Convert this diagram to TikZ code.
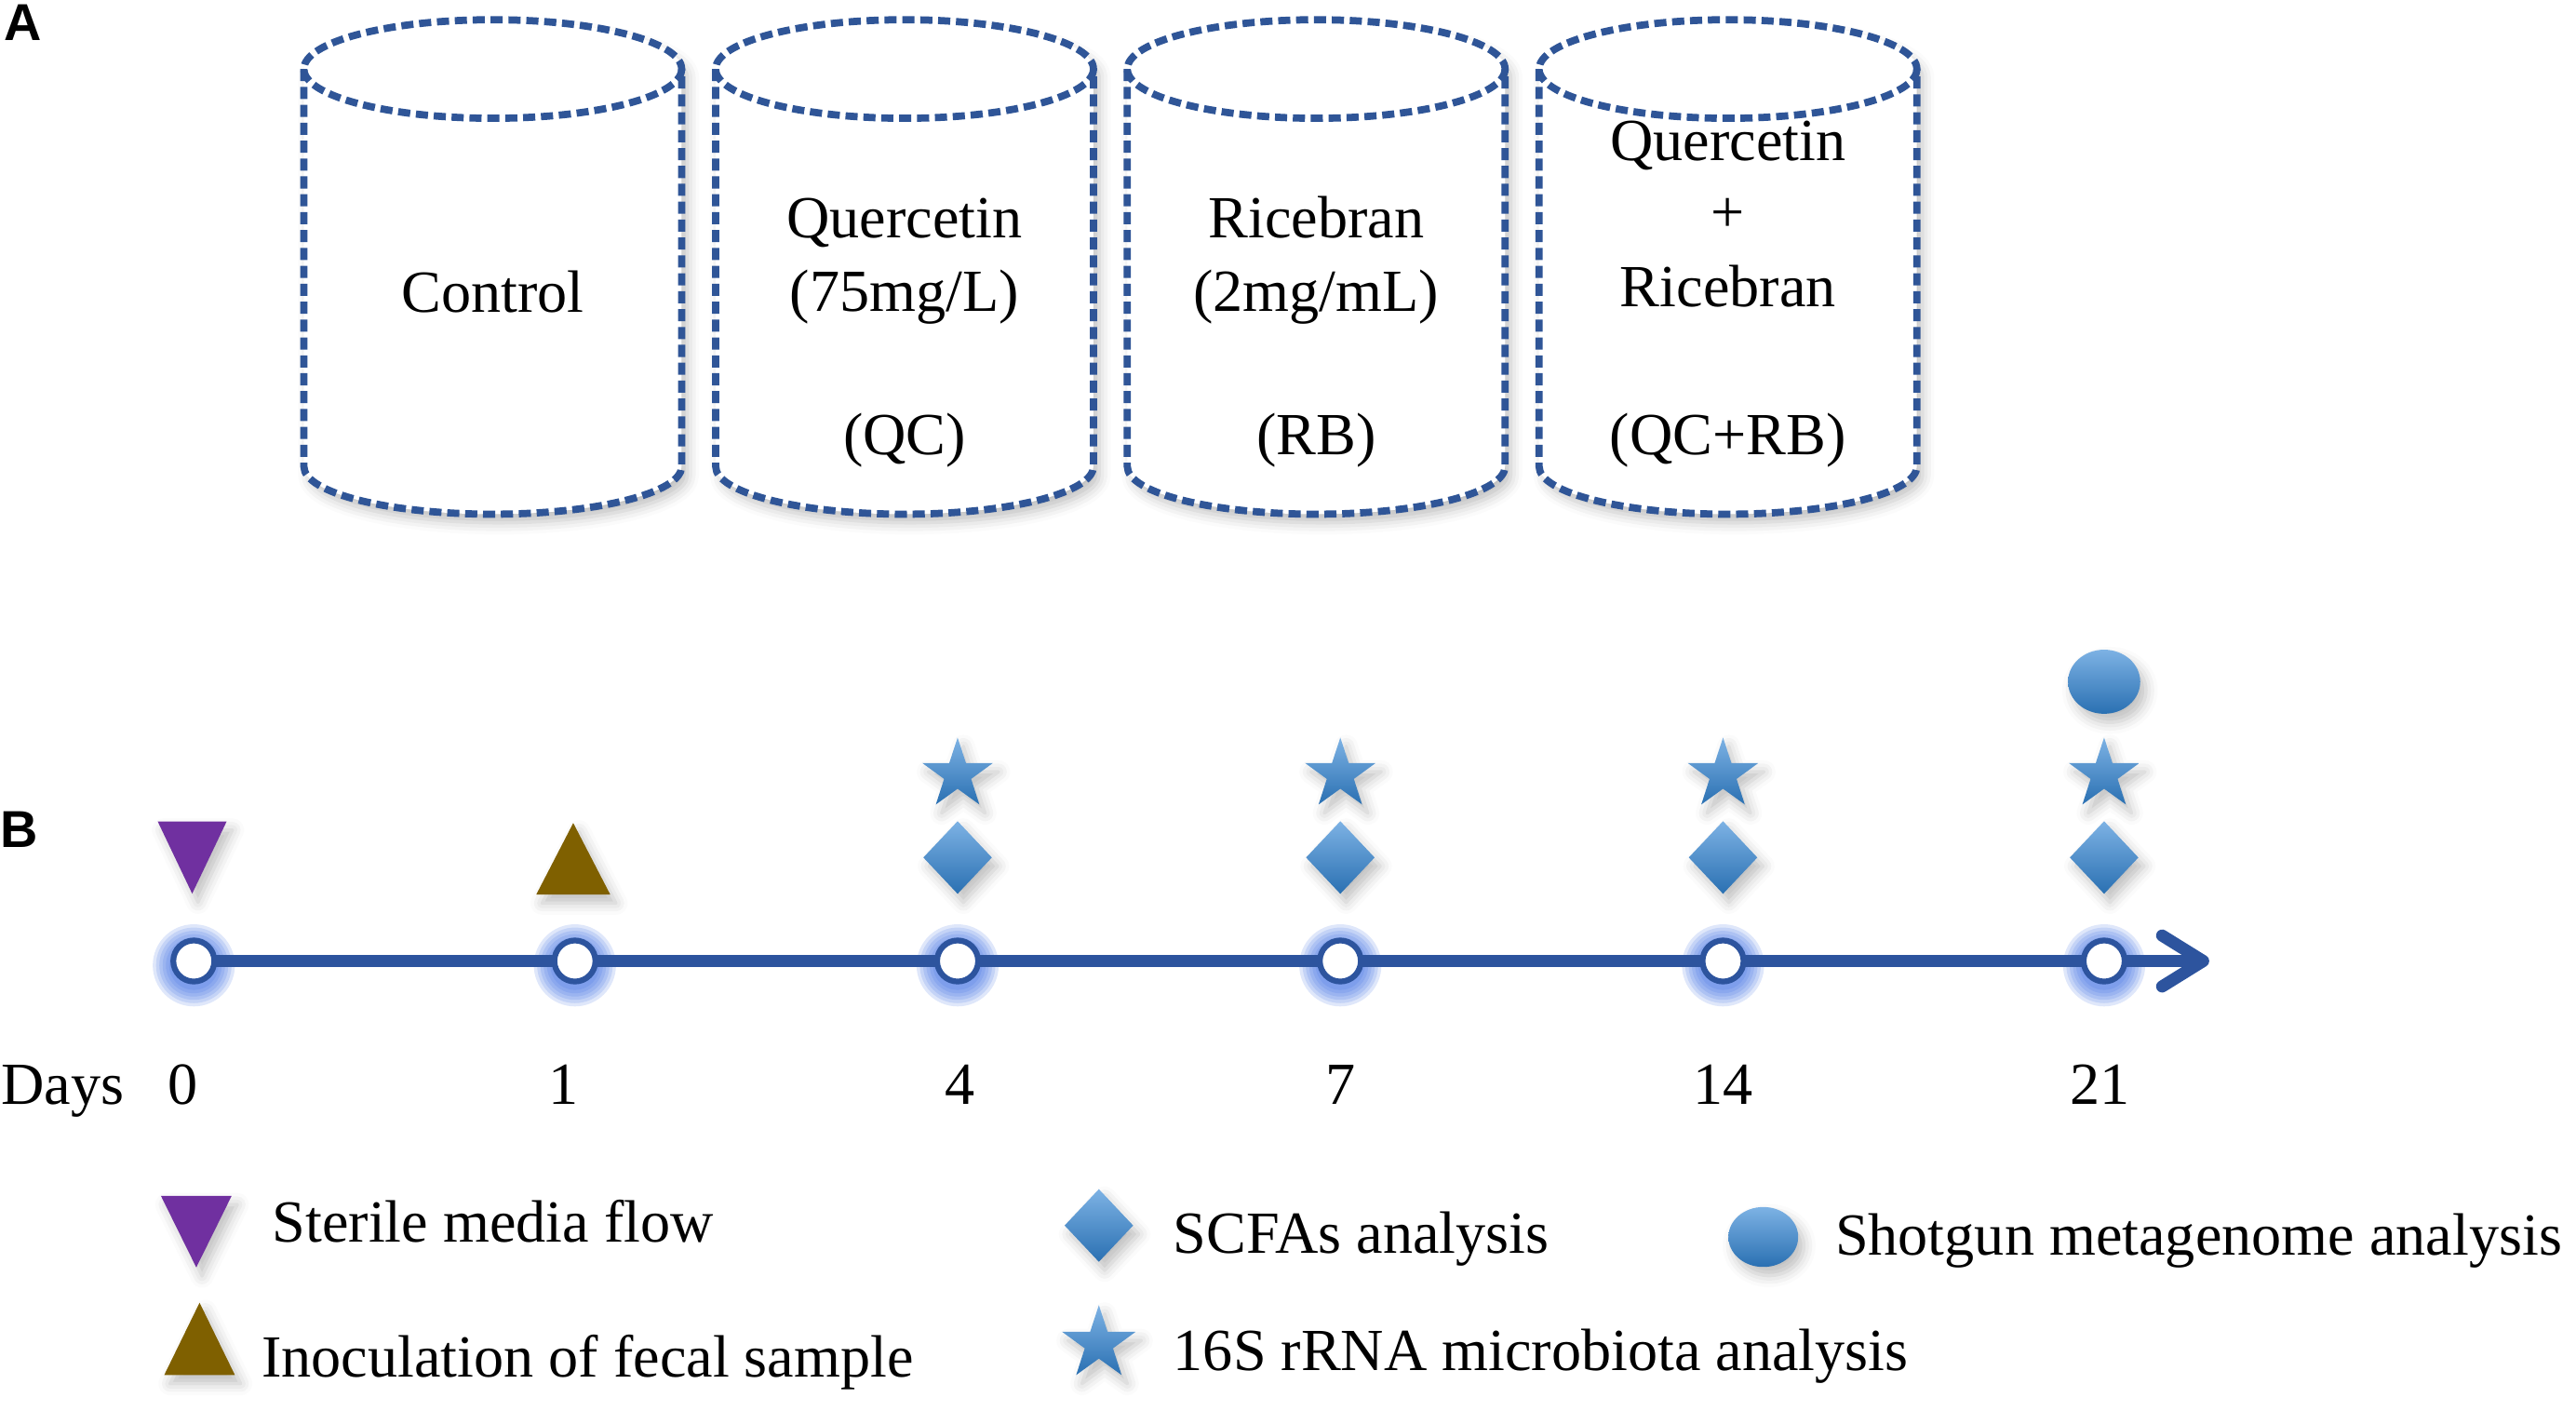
\documentclass[tikz,border=0pt]{standalone}
\usepackage{fontspec}
\setmainfont{Liberation Serif}
\newfontfamily\panelfont{Liberation Sans}
\usetikzlibrary{shapes.geometric,arrows.meta,shadows.blur}
\definecolor{cylblue}{RGB}{47,85,151}
\definecolor{axisblue}{RGB}{45,84,158}
\definecolor{glowblue}{RGB}{55,105,225}
\definecolor{mediapurple}{RGB}{112,48,160}
\definecolor{fecalbrown}{RGB}{127,96,0}
\definecolor{markhi}{RGB}{125,178,228}
\definecolor{marklo}{RGB}{42,112,178}
\tikzset{
  txt/.style={font=\fontsize{20.7}{24}\selectfont, inner sep=0pt},
  panel/.style={font={\panelfont\bfseries\fontsize{18}{20}\selectfont}, inner sep=0pt, anchor=base west},
  cyl/.style={draw=cylblue, line width=2.5pt, dash pattern=on 4.2pt off 2pt},
  softshadow/.style={blur shadow={shadow xshift=2pt, shadow yshift=-3pt, shadow blur radius=4pt, shadow opacity=25}},
  dayring/.style={circle, draw=axisblue, line width=2pt, fill=white, minimum size=0.5cm, inner sep=0pt},
  scfa/.style={diamond, minimum width=0.84cm, minimum height=0.89cm, inner sep=0pt, top color=markhi, bottom color=marklo, softshadow},
  rrna/.style={star, star points=5, star point ratio=2.6, minimum size=0.9cm, inner sep=0pt, top color=markhi, bottom color=marklo, softshadow},
  shotgun/.style={ellipse, minimum width=0.88cm, minimum height=0.78cm, inner sep=0pt, top color=markhi, bottom color=marklo, softshadow},
}
\begin{document}
\begin{tikzpicture}[x=0.02cm,y=-0.02cm]
\useasboundingbox (0,0) rectangle (1568.3,858.4);
% A: the four reactors
\node[panel] (pA) at (2,24.4) {A};
\foreach \cx in {300,550.7,801.3,1052}{
  \fill[white,softshadow] (\cx-115,42) arc[start angle=180,end angle=360,x radius=115,y radius=30]
    -- (\cx+115,284) arc[start angle=0,end angle=180,x radius=115,y radius=29] -- cycle;
  \draw[cyl] (\cx,42) ellipse[x radius=115,y radius=30];
  \draw[cyl] (\cx-115,42) -- (\cx-115,284) arc[start angle=180,end angle=0,x radius=115,y radius=29] -- (\cx+115,42);
}
\node[txt,anchor=base] (ctrl) at (300,190) {Control};
\node[txt,anchor=base] (qcname) at (550.7,145) {Quercetin};
\node[txt,anchor=base] (qcdose) at (550.7,189.5) {(75mg/L)};
\node[txt,anchor=base] (qcabbr) at (550.7,277) {(QC)};
\node[txt,anchor=base] (rbname) at (801.3,145) {Ricebran};
\node[txt,anchor=base] (rbdose) at (801.3,189.5) {(2mg/mL)};
\node[txt,anchor=base] (rbabbr) at (801.3,277) {(RB)};
\node[txt,anchor=base] (mixqc) at (1052,97.5) {Quercetin};
\node[txt,anchor=base] (mixplus) at (1052,141.5) {+};
\node[txt,anchor=base] (mixrb) at (1052,186.5) {Ricebran};
\node[txt,anchor=base] (mixabbr) at (1052,276.5) {(QC+RB)};
% B: time line
\node[panel] (pB) at (0,515.6) {B};
\foreach \d/\x in {0/118,1/350,4/583,7/816,14/1049,21/1281}
  \coordinate (t\d) at (\x,585);
\coordinate (tip) at (1345,585);
\foreach \d in {0,1,4,7,14,21}
  \foreach \r in {15,17,...,25}
    \fill[glowblue,opacity=0.16] ([yshift=-1.5pt]t\d) circle[radius=\r];
\draw[axisblue,line width=4.2pt,-{Straight Barb[length=0.5cm,width=0.62cm,round]}] (t0) -- (tip);
\foreach \d in {0,1,4,7,14,21}
  \node[dayring] (ring\d) at (t\d) {};
\node[txt,anchor=base west] (days) at (0.5,672) {Days};
\foreach \d/\x in {0/111.5,1/343,4/584.5,7/816,14/1049,21/1278.5}
  \node[txt,anchor=base] (lab\d) at (\x,672) {\d};
% markers
\fill[mediapurple,softshadow] (96,500) -- (138,500) -- (117,544) -- cycle;
\fill[fecalbrown,softshadow] (326.5,544.5) -- (371.5,544.5) -- (349,501) -- cycle;
\foreach \d/\x in {4/583,7/816,14/1049,21/1281}{
  \node[scfa] (scfa\d) at (\x,522) {};
  \node[rrna] (rrna\d) at (\x,471.5) {};
}
\node[shotgun] (shot21) at (1281,415) {};
% legend
\fill[mediapurple,softshadow] (98,728) -- (141,728) -- (119.5,771.5) -- cycle;
\node[txt,anchor=base west] (keymedia) at (165.5,756) {Sterile media flow};
\fill[fecalbrown,softshadow] (100,837) -- (143,837) -- (121.5,793) -- cycle;
\node[txt,anchor=base west] (keyfecal) at (159,838) {Inoculation of fecal sample};
\node[scfa] (keyscfa) at (669,746) {};
\node[txt,anchor=base west] (keyscfatxt) at (714,763) {SCFAs analysis};
\node[rrna,minimum size=0.94cm] (keyrrna) at (669,818) {};
\node[txt,anchor=base west] (keyrrnatxt) at (714,834) {16S rRNA microbiota analysis};
\node[shotgun,minimum width=0.85cm,minimum height=0.73cm] (keyshot) at (1073.5,753) {};
\node[txt,anchor=base west] (keyshottxt) at (1117,764) {Shotgun metagenome analysis};
\end{tikzpicture}
\end{document}
